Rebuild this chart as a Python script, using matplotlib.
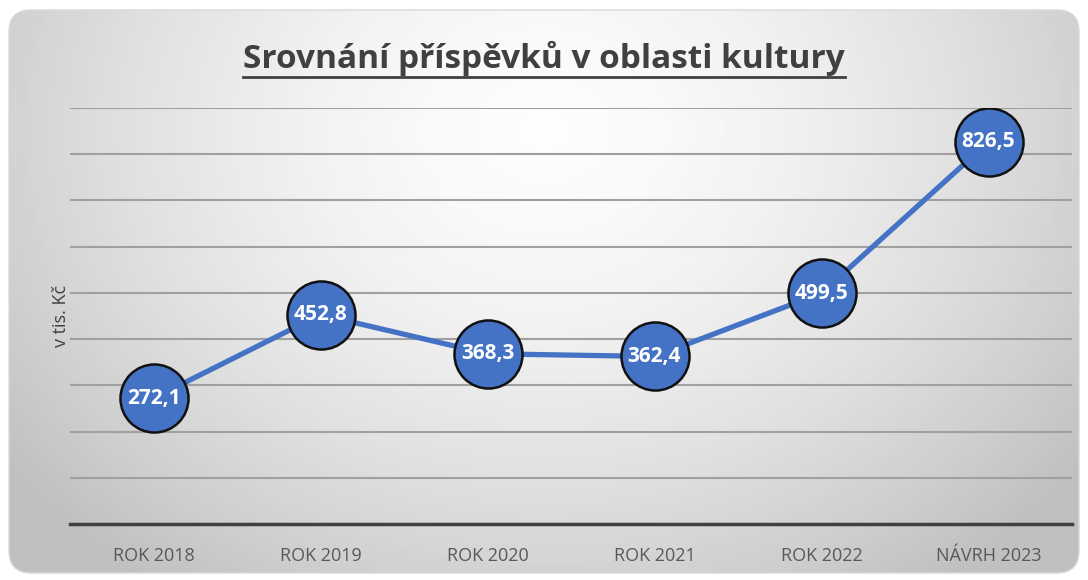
import numpy as np
import matplotlib.pyplot as plt
from matplotlib.patches import FancyBboxPatch

categories = ["ROK 2018", "ROK 2019", "ROK 2020", "ROK 2021", "ROK 2022", "NÁVRH 2023"]
values = [272.1, 452.8, 368.3, 362.4, 499.5, 826.5]
labels = ["272,1", "452,8", "368,3", "362,4", "499,5", "826,5"]

plt.rcParams['font.family'] = ['Open Sans', 'DejaVu Sans']

fig = plt.figure(figsize=(10.88, 5.8), dpi=100)

# background panel with radial gradient and rounded corners
bg = fig.add_axes([0, 0, 1, 1])
bg.set_xlim(0, 1088)
bg.set_ylim(580, 0)
bg.axis("off")
xx, yy = np.meshgrid(np.linspace(0, 1088, 544), np.linspace(0, 580, 290))
r = np.sqrt(((xx - 544) / 620) ** 2 + ((yy - 130) / 520) ** 2)
shade = np.clip(0.99 - 0.21 * r ** 1.6, 0.75, 1.0)
panel = FancyBboxPatch((9, 10), 1070, 563, boxstyle="round,pad=0,rounding_size=22",
                       facecolor="none", edgecolor="#d9d9d9", lw=1)
bg.add_patch(panel)
im = bg.imshow(shade, cmap="gray", vmin=0, vmax=1, extent=(0, 1088, 580, 0),
               aspect="auto", interpolation="bilinear")
im.set_clip_path(panel)

ax = fig.add_axes([70 / 1088, 1 - 524 / 580, 1002 / 1088, 416 / 580])
ax.set_facecolor("none")
x = np.arange(len(categories))
ax.set_xlim(-0.5, len(categories) - 0.5)
ax.set_ylim(0, 900)
ax.set_yticks(np.arange(0, 901, 100))
ax.yaxis.grid(True, color="#a0a0a0", lw=1.5)
ax.set_axisbelow(True)
ax.tick_params(axis="y", left=False, labelleft=False)
ax.tick_params(axis="x", bottom=False, labelsize=13, labelcolor="#595959", pad=13)
ax.set_xticks(x)
ax.set_xticklabels(categories)
for s in ["top", "right", "left"]:
    ax.spines[s].set_visible(False)
ax.spines["bottom"].set_color("#404040")
ax.spines["bottom"].set_linewidth(2.5)
ax.set_ylabel("v tis. Kč", fontsize=13, color="#404040", labelpad=0)

ax.plot(x, values, color="#4472C4", lw=3.8, marker="o", markersize=49,
        markerfacecolor="#4472C4", markeredgecolor="#111111", markeredgewidth=1.8,
        zorder=3)
for xi, v, t in zip(x, values, labels):
    ax.text(xi, v, t, ha="center", va="center", color="white", fontsize=15,
            fontweight="bold", zorder=4)

title = fig.text(0.5, 1 - 58 / 580, "Srovnání příspěvků v oblasti kultury",
                 ha="center", va="center", fontsize=24, fontweight="bold",
                 color="#404040")
fig.canvas.draw()
bb = title.get_window_extent()
bg.plot([bb.x0, bb.x1], [77, 77], color="#404040", lw=2)

fig.savefig("out.png", dpi=100)
